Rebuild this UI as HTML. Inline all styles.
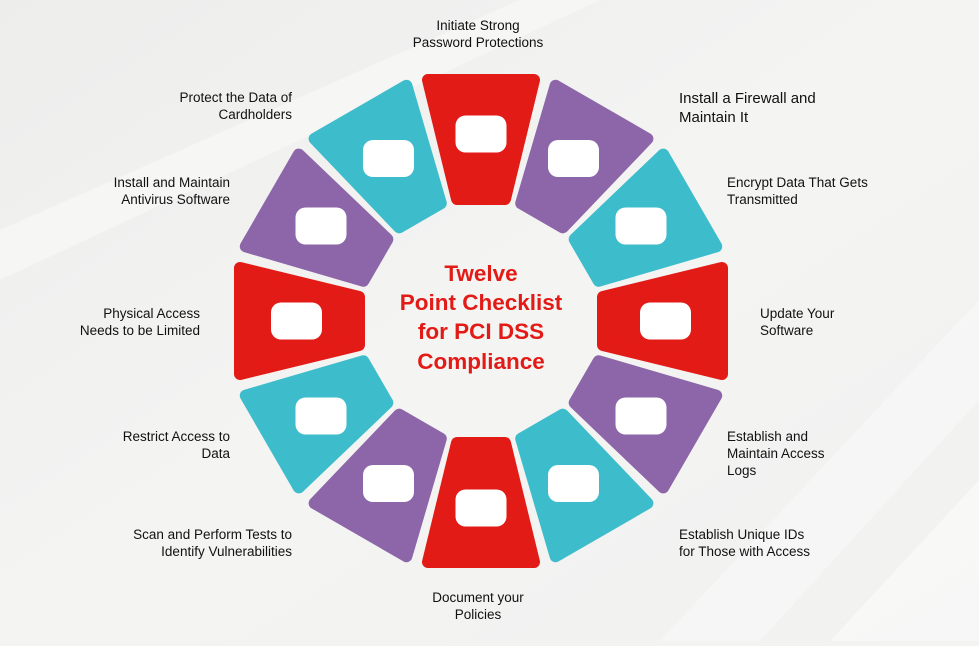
<!DOCTYPE html>
<html><head><meta charset="utf-8"><style>
html,body{margin:0;padding:0}
body{width:979px;height:641px;overflow:hidden;background:#f3f3f2;font-family:"Liberation Sans",sans-serif}
</style></head><body>
<svg width="979" height="641" viewBox="0 0 979 641" xmlns="http://www.w3.org/2000/svg">
<defs>
<linearGradient id="bg" x1="0" y1="0" x2="1" y2="1">
<stop offset="0" stop-color="#ededec"/><stop offset="0.5" stop-color="#f4f4f3"/><stop offset="1" stop-color="#f1f1f0"/>
</linearGradient>
</defs>
<rect width="979" height="641" fill="url(#bg)"/>
<polygon points="0,230 520,0 600,0 0,280" fill="#f8f8f7" opacity="0.7"/>
<polygon points="660,641 979,300 979,400 760,641" fill="#f8f8f8" opacity="0.7"/>
<polygon points="830,641 979,480 979,641" fill="#f9f9f9" opacity="0.8"/>
<g transform="translate(481,321)" stroke-linejoin="round" stroke-width="12">
<g><polygon points="-53,-241 53,-241 24,-122 -24,-122" fill="#e31b17" stroke="#e31b17"/></g>
<g transform="rotate(30)"><polygon points="-53,-241 53,-241 24,-122 -24,-122" fill="#8c66a8" stroke="#8c66a8"/></g>
<g transform="rotate(60)"><polygon points="-53,-241 53,-241 24,-122 -24,-122" fill="#3dbccb" stroke="#3dbccb"/></g>
<g transform="rotate(90)"><polygon points="-53,-241 53,-241 24,-122 -24,-122" fill="#e31b17" stroke="#e31b17"/></g>
<g transform="rotate(120)"><polygon points="-53,-241 53,-241 24,-122 -24,-122" fill="#8c66a8" stroke="#8c66a8"/></g>
<g transform="rotate(150)"><polygon points="-53,-241 53,-241 24,-122 -24,-122" fill="#3dbccb" stroke="#3dbccb"/></g>
<g transform="rotate(180)"><polygon points="-53,-241 53,-241 24,-122 -24,-122" fill="#e31b17" stroke="#e31b17"/></g>
<g transform="rotate(210)"><polygon points="-53,-241 53,-241 24,-122 -24,-122" fill="#8c66a8" stroke="#8c66a8"/></g>
<g transform="rotate(240)"><polygon points="-53,-241 53,-241 24,-122 -24,-122" fill="#3dbccb" stroke="#3dbccb"/></g>
<g transform="rotate(270)"><polygon points="-53,-241 53,-241 24,-122 -24,-122" fill="#e31b17" stroke="#e31b17"/></g>
<g transform="rotate(300)"><polygon points="-53,-241 53,-241 24,-122 -24,-122" fill="#8c66a8" stroke="#8c66a8"/></g>
<g transform="rotate(330)"><polygon points="-53,-241 53,-241 24,-122 -24,-122" fill="#3dbccb" stroke="#3dbccb"/></g>
</g>
<g fill="#fff">
<rect x="455.5" y="115.5" width="51" height="37" rx="10"/>
<rect x="548" y="140" width="51" height="37" rx="10"/>
<rect x="615.5" y="207.5" width="51" height="37" rx="10"/>
<rect x="640" y="302.5" width="51" height="37" rx="10"/>
<rect x="615.5" y="397.5" width="51" height="37" rx="10"/>
<rect x="548" y="465" width="51" height="37" rx="10"/>
<rect x="455.5" y="489.5" width="51" height="37" rx="10"/>
<rect x="363" y="465" width="51" height="37" rx="10"/>
<rect x="295.5" y="397.5" width="51" height="37" rx="10"/>
<rect x="271" y="302.5" width="51" height="37" rx="10"/>
<rect x="295.5" y="207.5" width="51" height="37" rx="10"/>
<rect x="363" y="140" width="51" height="37" rx="10"/>
</g>
<g fill="#e31b17" font-family="Liberation Sans, sans-serif" font-weight="bold" font-size="22.5" text-anchor="middle">
<text x="481" y="281">Twelve</text>
<text x="481" y="310">Point Checklist</text>
<text x="481" y="339">for PCI DSS</text>
<text x="481" y="369">Compliance</text>
</g>
<g fill="#111" font-family="Liberation Sans, sans-serif" font-size="13.5">
<g text-anchor="middle">
<text x="478" y="30">Initiate Strong</text><text x="478" y="47">Password Protections</text>
<text x="478" y="602">Document your</text><text x="478" y="619">Policies</text>
</g>
<g text-anchor="end">
<text x="292" y="102">Protect the Data of</text><text x="292" y="119">Cardholders</text>
<text x="230" y="187">Install and Maintain</text><text x="230" y="204">Antivirus Software</text>
<text x="200" y="318">Physical Access</text><text x="200" y="335">Needs to be Limited</text>
<text x="230" y="441">Restrict Access to</text><text x="230" y="458">Data</text>
<text x="292" y="539">Scan and Perform Tests to</text><text x="292" y="556">Identify Vulnerabilities</text>
</g>
<g>
<text x="679" y="103" font-size="15">Install a Firewall and</text><text x="679" y="122" font-size="15">Maintain It</text>
<text x="727" y="187">Encrypt Data That Gets</text><text x="727" y="204">Transmitted</text>
<text x="760" y="318">Update Your</text><text x="760" y="335">Software</text>
<text x="727" y="441">Establish and</text><text x="727" y="458">Maintain Access</text><text x="727" y="475">Logs</text>
<text x="679" y="539">Establish Unique IDs</text><text x="679" y="556">for Those with Access</text>
</g>
</g>
</svg>
</body></html>
